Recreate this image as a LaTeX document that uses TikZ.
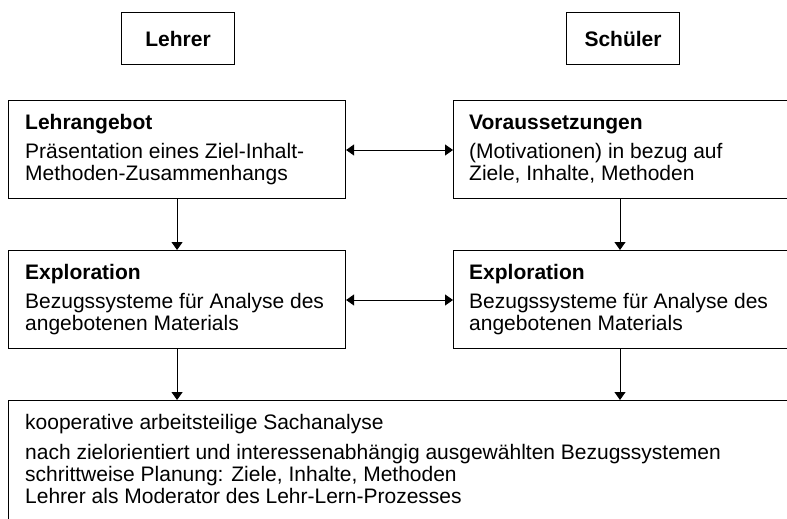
\documentclass[tikz,border=0pt]{standalone}
\usepackage{fontspec}
\setmainfont{Liberation Sans}
\usetikzlibrary{arrows.meta}
\begin{document}
\begin{tikzpicture}[x=1pt,y=-1pt,
  box/.style={draw, line width=1.1pt, rectangle, inner sep=0pt, anchor=north west},
  headbox/.style={box, font=\fontsize{21}{23}\selectfont\bfseries},
  txt/.style={anchor=base west, inner sep=0pt, font=\fontsize{21}{23}\selectfont},
  ttl/.style={anchor=base west, inner sep=0pt, font=\fontsize{21}{23}\selectfont\bfseries},
  arr/.style={line width=1pt, -{Triangle[width=11pt,length=8pt]}},
  darr/.style={line width=1pt, {Triangle[width=11pt,length=8pt]}-{Triangle[width=11pt,length=8pt]}}]
\useasboundingbox (0,0) rectangle (787,519);
\clip (0,0) rectangle (787,519);
\fill[white] (0,0) rectangle (787,519);

% header boxes
\node[headbox, minimum width=113pt, minimum height=52pt] (lehrer) at (121,12) {Lehrer};
\node[headbox, minimum width=113pt, minimum height=52pt] (schueler) at (566,12) {Schüler};

% boxes
\node[box, minimum width=337pt, minimum height=98pt] (lehr) at (8,100) {};
\node[box, minimum width=360pt, minimum height=98pt] (vor) at (453,100) {};
\node[box, minimum width=337pt, minimum height=98pt] (explL) at (8,250) {};
\node[box, minimum width=360pt, minimum height=98pt] (explR) at (453,250) {};
\node[box, minimum width=800pt, minimum height=150pt] (koop) at (8,400) {};

% texts row 1
\node[ttl] (t11) at (25,129) {Lehrangebot};
\node[txt] (t12) at (25,158) {Präsentation eines Ziel-Inhalt-};
\node[txt] (t13) at (25,180) {Methoden-Zusammenhangs};
\node[ttl] (t21) at (469,129) {Voraussetzungen};
\node[txt] (t22) at (469,158) {(Motivationen) in bezug auf};
\node[txt] (t23) at (469,180) {Ziele, Inhalte, Methoden};

% texts row 2
\node[ttl] (t31) at (25,279) {Exploration};
\node[txt] (t32) at (25,308) {Bezugssysteme für Analyse des};
\node[txt] (t33) at (25,330) {angebotenen Materials};
\node[ttl] (t41) at (469,279) {Exploration};
\node[txt] (t42) at (469,308) {Bezugssysteme für Analyse des};
\node[txt] (t43) at (469,330) {angebotenen Materials};

% bottom texts
\node[txt] (b1) at (25,429) {kooperative arbeitsteilige Sachanalyse};
\node[txt] (b2) at (25,459) {nach zielorientiert und interessenabhängig ausgewählten Bezugssystemen};
\node[txt] (b3) at (25,481) {schrittweise Planung: Ziele, Inhalte, Methoden};
\node[txt] (b4) at (25,503) {Lehrer als Moderator des Lehr-Lern-Prozesses};

% connectors
\draw[arr] (lehr.south) -- (explL.north);
\draw[arr] ([xshift=167pt]vor.south west) -- ([xshift=167pt]explR.north west);
\draw[darr] ([yshift=-50pt]lehr.north east) -- ([yshift=-50pt]vor.north west);
\draw[darr] ([yshift=-50pt]explL.north east) -- ([yshift=-50pt]explR.north west);
\draw[arr] (explL.south) -- (explL.south |- koop.north);
\draw[arr] ([xshift=167pt]explR.south west) -- ([xshift=167pt]explR.south west |- koop.north);
\end{tikzpicture}
\end{document}
